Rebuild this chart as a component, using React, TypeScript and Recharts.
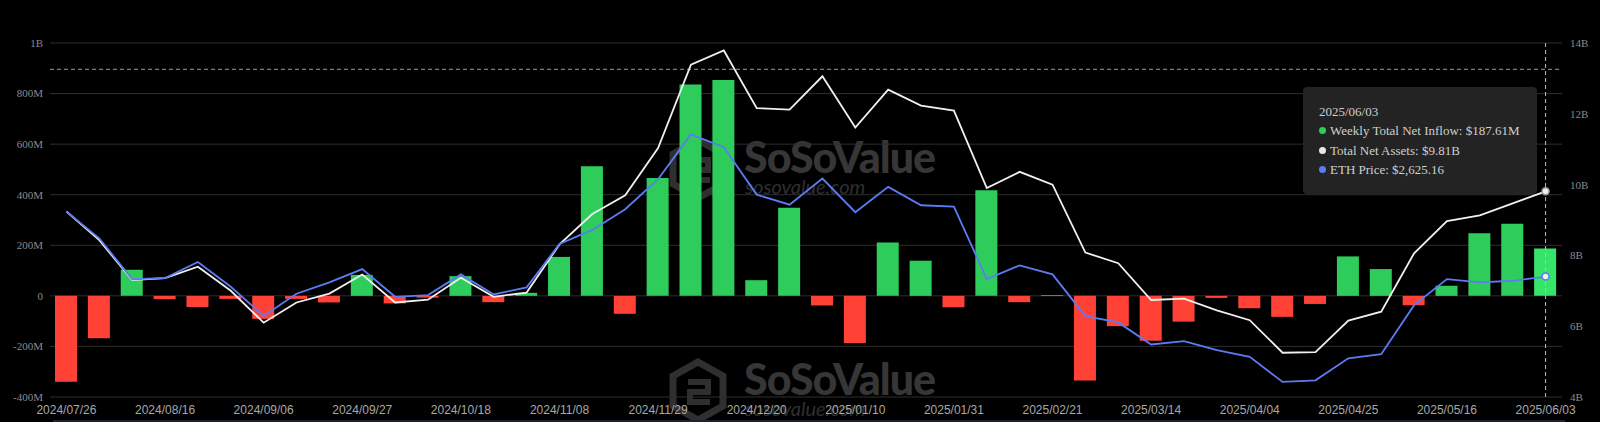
import React from "react";
import {
  Bar,
  CartesianGrid,
  Cell,
  ComposedChart,
  Line,
  ReferenceLine,
  XAxis,
  YAxis,
} from "recharts";

const dates = [
  "2024/07/26", "2024/08/02", "2024/08/09", "2024/08/16", "2024/08/23", "2024/08/30",
  "2024/09/06", "2024/09/13", "2024/09/20", "2024/09/27", "2024/10/04", "2024/10/11",
  "2024/10/18", "2024/10/25", "2024/11/01", "2024/11/08", "2024/11/15", "2024/11/22",
  "2024/11/29", "2024/12/06", "2024/12/13", "2024/12/20", "2024/12/27", "2025/01/03",
  "2025/01/10", "2025/01/17", "2025/01/24", "2025/01/31", "2025/02/07", "2025/02/14",
  "2025/02/21", "2025/02/28", "2025/03/07", "2025/03/14", "2025/03/21", "2025/03/28",
  "2025/04/04", "2025/04/11", "2025/04/18", "2025/04/25", "2025/05/02", "2025/05/09",
  "2025/05/16", "2025/05/23", "2025/05/30", "2025/06/03",
];

// weekly total net inflow, $M
const netInflow = [
  -340, -168, 103, -13, -44, -12, -91, -12, -26, 83, -30, -7,
  78, -25, 12, 154, 513, -71, 466, 836, 854, 62, 348, -38,
  -186, 211, 139, -45, 418, -25, 3, -335, -120, -178, -102, -8,
  -49, -83, -32, 156, 106, -37, 40, 248, 285, 187.61,
];

// total net assets, $B
const totalNetAssets = [
  9.24, 8.43, 7.3, 7.36, 7.68, 7.0, 6.1, 6.67, 6.92, 7.46, 6.67, 6.75,
  7.37, 6.83, 6.95, 8.31, 9.17, 9.7, 11.03, 13.39, 13.79, 12.16, 12.12, 13.06,
  11.61, 12.68, 12.23, 12.09, 9.9, 10.36, 10.0, 8.08, 7.78, 6.74, 6.78, 6.45,
  6.17, 5.25, 5.27, 6.16, 6.41, 8.06, 8.97, 9.13, 9.47, 9.81,
];

// ETH price, $
const ethPrice = [
  3285, 3014, 2596, 2610, 2773, 2521, 2225, 2450, 2566, 2701, 2419, 2436,
  2647, 2443, 2515, 2956, 3099, 3310, 3615, 4070, 3941, 3458, 3356, 3622,
  3279, 3537, 3350, 3336, 2599, 2739, 2647, 2222, 2158, 1934, 1968, 1876,
  1808, 1553, 1570, 1794, 1835, 2334, 2599, 2566, 2582, 2625.16,
];

const tickLabels = [
  "2024/07/26", "2024/08/16", "2024/09/06", "2024/09/27", "2024/10/18", "2024/11/08",
  "2024/11/29", "2024/12/20", "2025/01/10", "2025/01/31", "2025/02/21", "2025/03/14",
  "2025/04/04", "2025/04/25", "2025/05/16", "2025/06/03",
];

const leftTicks = [-400, -200, 0, 200, 400, 600, 800, 1000];
const rightTicks = [4, 6, 8, 10, 12, 14];

const data = dates.map((d, i) => ({
  date: d,
  inflow: netInflow[i],
  assets: totalNetAssets[i],
  eth: ethPrice[i],
}));

const last = dates.length - 1;
const GREEN = "#2ecc5a";
const GREEN_HI = "#36e46a";
const RED = "#ff4136";
const BLUE = "#5b7cf5";
const WHITE = "#f0f0f0";

const fmtLeft = (v: number) => (v === 0 ? "0" : v >= 1000 ? `${v / 1000}B` : `${v}M`);

const Watermark = ({ top }: { top: number }) => (
  <div style={{ position: "absolute", left: 668, top, width: 300, height: 70 }}>
    <svg width={60} height={66} style={{ position: "absolute", left: 0, top: 0 }}>
      <polygon
        points="30,4 55,18 55,48 30,62 5,48 5,18"
        fill="none"
        stroke="#2f2f2f"
        strokeWidth={7}
      />
      <path d="M20,24 L40,24 L40,34 L22,34 L22,44 L42,44" fill="none" stroke="#2f2f2f" strokeWidth={6} />
    </svg>
    <div
      style={{
        position: "absolute",
        left: 76,
        top: -2,
        fontFamily: "Lato",
        fontWeight: 900,
        fontSize: 43,
        letterSpacing: -1,
        color: "#363636",
        lineHeight: "46px",
      }}
    >
      SoSoValue
    </div>
    <div
      style={{
        position: "absolute",
        left: 77,
        top: 39,
        fontFamily: "Lato",
        fontStyle: "italic",
        fontSize: 20,
        color: "#2f2f2f",
        lineHeight: "22px",
      }}
    >
      sosovalue.com
    </div>
  </div>
);

const dotLast = (color: string, fill: string) => (props: any) => {
  const { cx, cy, index } = props;
  if (index !== last) return <g key={`d-${index}`} />;
  return <circle key={`d-${index}`} cx={cx} cy={cy} r={3.5} fill={fill} stroke={color} strokeWidth={1.5} />;
};

const tipRows = [
  { color: GREEN, text: `Weekly Total Net Inflow: $${netInflow[last].toFixed(2)}M` },
  { color: "#e8e8e8", text: `Total Net Assets: $${totalNetAssets[last].toFixed(2)}B` },
  {
    color: BLUE,
    text: `ETH Price: $${ethPrice[last].toLocaleString("en-US", { minimumFractionDigits: 2 })}`,
  },
];

export default function App() {
  return (
    <div
      style={{
        position: "fixed",
        left: 0,
        top: 0,
        width: 1600,
        height: 422,
        background: "#000",
        overflow: "hidden",
      }}
    >
      <Watermark top={136} />
      <Watermark top={358} />
      <div style={{ position: "absolute", left: 0, top: 0 }}>
        <ComposedChart
          width={1600}
          height={422}
          data={data}
          margin={{ top: 43, right: 0, bottom: 0, left: 0 }}
        >
          <CartesianGrid yAxisId="left" vertical={false} stroke="#2e2e2e" />
          <XAxis
            dataKey="date"
            height={25}
            interval={0}
            axisLine={false}
            tickLine={false}
            tickFormatter={(v: string) => (tickLabels.includes(v) ? v : "")}
            tick={{ fill: "#a8a8a8", fontSize: 12, fontFamily: "Liberation Sans" }}
          />
          <YAxis
            yAxisId="left"
            width={50}
            domain={[-400, 1000]}
            ticks={leftTicks}
            tickFormatter={fmtLeft}
            axisLine={false}
            tickLine={false}
            tickMargin={1}
            tick={{ fill: "#8c8c8c", fontSize: 11, fontFamily: "Liberation Serif" }}
          />
          <YAxis
            yAxisId="right"
            orientation="right"
            width={38}
            domain={[4, 14]}
            ticks={rightTicks}
            tickFormatter={(v: number) => `${v}B`}
            axisLine={false}
            tickLine={false}
            tick={{ fill: "#8c8c8c", fontSize: 11, fontFamily: "Liberation Serif" }}
          />
          <YAxis yAxisId="eth" orientation="right" width={0} hide domain={[1400, 5000]} />
          <ReferenceLine yAxisId="left" y={896} stroke="#9a9a9a" strokeDasharray="4 3" />
          <Bar yAxisId="left" dataKey="inflow" barSize={22} isAnimationActive={false}>
            {data.map((d, i) => (
              <Cell key={d.date} fill={d.inflow >= 0 ? (i === last ? GREEN_HI : GREEN) : RED} />
            ))}
          </Bar>
          <ReferenceLine yAxisId="left" x={dates[last]} stroke="#bdbdbd" strokeDasharray="4 3" />
          <Line
            yAxisId="right"
            dataKey="assets"
            stroke={WHITE}
            strokeWidth={1.8}
            dot={dotLast("#9a9a9a", "#f0f0f0")}
            isAnimationActive={false}
          />
          <Line
            yAxisId="eth"
            dataKey="eth"
            stroke={BLUE}
            strokeWidth={1.8}
            dot={dotLast(BLUE, "#f0f0f0")}
            isAnimationActive={false}
          />
        </ComposedChart>
      </div>
      <div
        style={{
          position: "absolute",
          left: 1303,
          top: 87,
          width: 234,
          height: 107,
          boxSizing: "border-box",
          padding: "15px 0 0 16px",
          background: "#232323",
          borderRadius: 4,
          fontFamily: "Liberation Serif",
          fontSize: 13,
          lineHeight: "19.3px",
          color: "#cfcfcf",
          whiteSpace: "nowrap",
        }}
      >
        <div>{dates[last]}</div>
        {tipRows.map((r) => (
          <div key={r.text} style={{ display: "flex", alignItems: "center" }}>
            <span
              style={{
                display: "inline-block",
                width: 7,
                height: 7,
                borderRadius: "50%",
                background: r.color,
                marginRight: 4,
              }}
            />
            {r.text}
          </div>
        ))}
      </div>
      <div
        style={{
          position: "absolute",
          left: 53,
          top: 420,
          width: 1512,
          height: 2,
          background: "#1a2335",
        }}
      />
    </div>
  );
}
